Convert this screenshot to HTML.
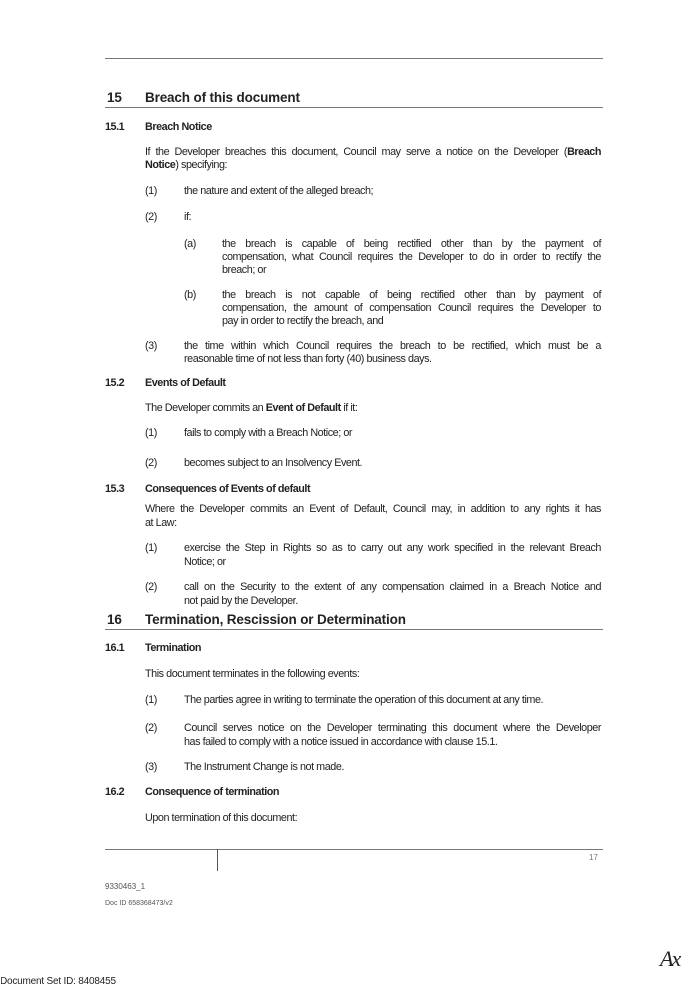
<!DOCTYPE html>
<html><head><meta charset="utf-8">
<style>
body{margin:0;width:694px;height:990px;background:#fff;position:relative;overflow:hidden;font-family:"Liberation Sans",Arial,sans-serif;color:#222;}
.t{position:absolute;font-size:10.8px;line-height:13px;white-space:nowrap;letter-spacing:-0.45px;}
.j{text-align:justify;text-align-last:justify;white-space:normal;}
.b{font-weight:bold;}
.h{position:absolute;font-size:13.5px;font-weight:bold;line-height:16px;white-space:nowrap;letter-spacing:-0.15px;}
.r{position:absolute;height:1px;background:#777;}
</style></head><body>
<div class="r" style="left:105px;top:58px;width:498px;"></div>

<div class="h" style="left:107px;top:90px;">15</div>
<div class="h" style="left:145px;top:90px;">Breach of this document</div>
<div class="r" style="left:105px;top:107px;width:498px;"></div>

<div class="t b" style="left:105px;top:121px;">15.1</div>
<div class="t b" style="left:145px;top:121px;">Breach Notice</div>
<div class="t j" style="left:145px;top:146px;width:456px;">If the Developer breaches this document, Council may serve a notice on the Developer (<b>Breach</b></div>
<div class="t" style="left:145px;top:159px;"><b>Notice</b>) specifying:</div>

<div class="t" style="left:145px;top:185px;">(1)</div>
<div class="t" style="left:184px;top:185px;">the nature and extent of the alleged breach;</div>
<div class="t" style="left:145px;top:211px;">(2)</div>
<div class="t" style="left:184px;top:211px;">if:</div>

<div class="t" style="left:184px;top:238px;">(a)</div>
<div class="t j" style="left:222px;top:238px;width:379px;">the breach is capable of being rectified other than by the payment of</div>
<div class="t j" style="left:222px;top:251px;width:379px;">compensation, what Council requires the Developer to do in order to rectify the</div>
<div class="t" style="left:222px;top:264px;">breach; or</div>

<div class="t" style="left:184px;top:289px;">(b)</div>
<div class="t j" style="left:222px;top:289px;width:379px;">the breach is not capable of being rectified other than by payment of</div>
<div class="t j" style="left:222px;top:302px;width:379px;">compensation, the amount of compensation Council requires the Developer to</div>
<div class="t" style="left:222px;top:315px;">pay in order to rectify the breach, and</div>

<div class="t" style="left:145px;top:340px;">(3)</div>
<div class="t j" style="left:184px;top:340px;width:417px;">the time within which Council requires the breach to be rectified, which must be a</div>
<div class="t" style="left:184px;top:353px;">reasonable time of not less than forty (40) business days.</div>

<div class="t b" style="left:105px;top:377px;">15.2</div>
<div class="t b" style="left:145px;top:377px;">Events of Default</div>
<div class="t" style="left:145px;top:402px;">The Developer commits an <b>Event of Default</b> if it:</div>
<div class="t" style="left:145px;top:427px;">(1)</div>
<div class="t" style="left:184px;top:427px;">fails to comply with a Breach Notice; or</div>
<div class="t" style="left:145px;top:457px;">(2)</div>
<div class="t" style="left:184px;top:457px;">becomes subject to an Insolvency Event.</div>

<div class="t b" style="left:105px;top:483px;">15.3</div>
<div class="t b" style="left:145px;top:483px;">Consequences of Events of default</div>
<div class="t j" style="left:145px;top:503px;width:456px;">Where the Developer commits an Event of Default, Council may, in addition to any rights it has</div>
<div class="t" style="left:145px;top:517px;">at Law:</div>
<div class="t" style="left:145px;top:542px;">(1)</div>
<div class="t j" style="left:184px;top:542px;width:417px;">exercise the Step in Rights so as to carry out any work specified in the relevant Breach</div>
<div class="t" style="left:184px;top:556px;">Notice; or</div>
<div class="t" style="left:145px;top:581px;">(2)</div>
<div class="t j" style="left:184px;top:581px;width:417px;">call on the Security to the extent of any compensation claimed in a Breach Notice and</div>
<div class="t" style="left:184px;top:595px;">not paid by the Developer.</div>

<div class="h" style="left:107px;top:612px;">16</div>
<div class="h" style="left:145px;top:612px;">Termination, Rescission or Determination</div>
<div class="r" style="left:105px;top:629px;width:498px;"></div>

<div class="t b" style="left:105px;top:642px;">16.1</div>
<div class="t b" style="left:145px;top:642px;">Termination</div>
<div class="t" style="left:145px;top:668px;">This document terminates in the following events:</div>
<div class="t" style="left:145px;top:694px;">(1)</div>
<div class="t" style="left:184px;top:694px;">The parties agree in writing to terminate the operation of this document at any time.</div>
<div class="t" style="left:145px;top:722px;">(2)</div>
<div class="t j" style="left:184px;top:722px;width:417px;">Council serves notice on the Developer terminating this document where the Developer</div>
<div class="t" style="left:184px;top:736px;">has failed to comply with a notice issued in accordance with clause 15.1.</div>
<div class="t" style="left:145px;top:761px;">(3)</div>
<div class="t" style="left:184px;top:761px;">The Instrument Change is not made.</div>

<div class="t b" style="left:105px;top:786px;">16.2</div>
<div class="t b" style="left:145px;top:786px;">Consequence of termination</div>
<div class="t" style="left:145px;top:812px;">Upon termination of this document:</div>

<div class="r" style="left:105px;top:849px;width:498px;"></div>
<div style="position:absolute;left:217px;top:849px;width:1px;height:22px;background:#555;"></div>
<div class="t" style="left:589px;top:851px;font-size:8px;color:#777;letter-spacing:0;">17</div>
<div class="t" style="left:105px;top:880px;font-size:8px;color:#555;letter-spacing:0;">9330463_1</div>
<div class="t" style="left:105px;top:897px;font-size:7px;color:#555;letter-spacing:0;">Doc ID 658368473/v2</div>

<div class="t" style="left:0px;top:975px;font-size:10px;letter-spacing:-0.2px;">Document Set ID: 8408455</div>
<div style="position:absolute;left:-7px;top:975px;width:8px;height:14px;background:#fff;"></div>
<div class="t" style="left:660px;top:952px;font-size:22px;font-style:italic;font-family:'Liberation Serif',serif;letter-spacing:-2px;">Ax</div>
</body></html>
